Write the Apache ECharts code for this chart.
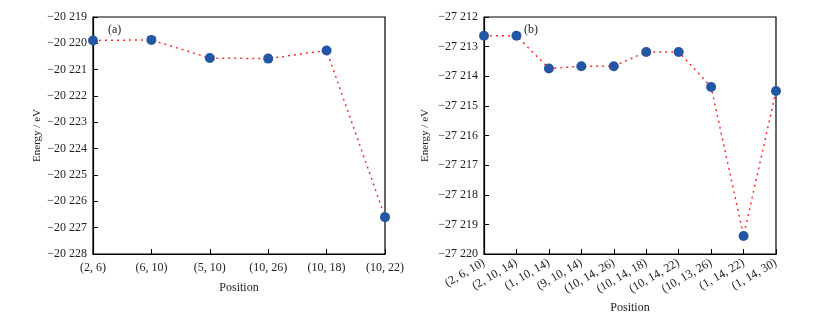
<!DOCTYPE html>
<html>
<head>
<meta charset="utf-8">
<script src="https://cdn.jsdelivr.net/npm/echarts@6/dist/echarts.min.js"></script>
<style>
  html, body { margin: 0; padding: 0; background: #fff; }
  #chart { width: 823px; height: 315px; }
</style>
</head>
<body>
<div id="chart"></div>
<script>
// (a) two-atom positions
var posA = ['(2, 6)', '(6, 10)', '(5, 10)', '(10, 26)', '(10, 18)', '(10, 22)'];
var energyA = [-20219.89, -20219.87, -20220.56, -20220.58, -20220.27, -20226.6];
// (b) three-atom positions
var posB = ['(2, 6, 10)', '(2, 10, 14)', '(1, 10, 14)', '(9, 10, 14)', '(10, 14, 26)',
  '(10, 14, 18)', '(10, 14, 22)', '(10, 13, 26)', '(1, 14, 22)', '(1, 14, 30)'];
var energyB = [-27212.63, -27212.63, -27213.74, -27213.66, -27213.66,
  -27213.18, -27213.18, -27214.36, -27219.39, -27214.5];

var font = 'Liberation Serif';

function fmt(v) {
  var s = String(Math.abs(Math.round(v)));
  s = s.slice(0, s.length - 3) + ' ' + s.slice(s.length - 3);
  return (v < 0 ? '\u2212' : '') + s;
}

function yAxisOf(idx, min, max, gap) {
  return {
    gridIndex: idx,
    type: 'value',
    min: min, max: max, interval: 1,
    name: 'Energy / eV',
    nameLocation: 'middle',
    nameGap: gap,
    nameTextStyle: { fontFamily: font, fontSize: 11, color: '#222' },
    axisLine: { show: true, lineStyle: { color: '#000', width: 1.2 } },
    axisTick: { show: true, inside: true, length: 5, lineStyle: { color: '#000' } },
    axisLabel: { formatter: fmt, fontFamily: font, fontSize: 12, color: '#222', margin: 6 },
    splitLine: { show: false }
  };
}

function xAxisOf(idx, data, rotate, gap) {
  return {
    gridIndex: idx,
    type: 'category',
    data: data,
    boundaryGap: false,
    name: 'Position',
    nameLocation: 'middle',
    nameGap: gap,
    nameTextStyle: { fontFamily: font, fontSize: 12, color: '#222' },
    axisLine: { show: true, lineStyle: { color: '#000', width: 1.2 } },
    axisTick: { show: true, inside: true, length: 5, alignWithLabel: true, lineStyle: { color: '#000' } },
    axisLabel: { fontFamily: font, fontSize: 12, color: '#222', rotate: rotate, margin: 8, interval: 0 },
    splitLine: { show: false }
  };
}

function lineOf(idx, data) {
  return {
    type: 'line',
    xAxisIndex: idx,
    yAxisIndex: idx,
    data: data,
    symbol: 'circle',
    symbolSize: 10,
    clip: false,
    itemStyle: { color: '#2456a6' },
    lineStyle: { color: '#ff2a2a', width: 1.5, type: [2, 4] }
  };
}

var myChart = echarts.init(document.getElementById('chart'));
var option = {
  backgroundColor: '#ffffff',
  animation: false,
  grid: [
    { left: 93, top: 17, width: 292, height: 237, show: true, borderColor: '#000', borderWidth: 1.2, outerBoundsMode: 'none' },
    { left: 484, top: 17, width: 292, height: 237, show: true, borderColor: '#000', borderWidth: 1.2, outerBoundsMode: 'none' }
  ],
  xAxis: [xAxisOf(0, posA, 0, 28), xAxisOf(1, posB, 30, 46)],
  yAxis: [yAxisOf(0, -20228, -20219, 50), yAxisOf(1, -27220, -27212, 53)],
  graphic: [
    { type: 'text', left: 108, top: 24, style: { text: '(a)', font: '12px "Liberation Serif"', fill: '#222' } },
    { type: 'text', left: 524, top: 24, style: { text: '(b)', font: '12px "Liberation Serif"', fill: '#222' } }
  ],
  series: [lineOf(0, energyA), lineOf(1, energyB)]
};
myChart.setOption(option);
</script>
</body>
</html>
